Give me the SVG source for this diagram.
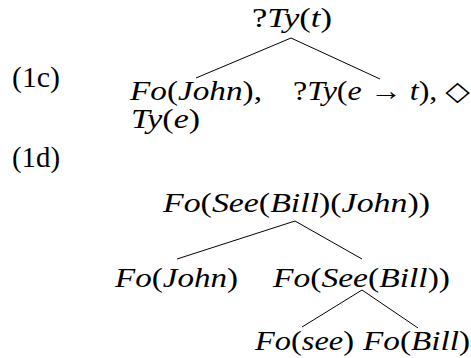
<svg xmlns="http://www.w3.org/2000/svg" width="471" height="358" viewBox="0 0 471 358">
<style>
text{font-family:"Liberation Serif","DejaVu Serif",serif;font-size:27px;fill:#000;white-space:pre}
.i{font-style:italic}
.lbl{font-size:29px}
.edge{stroke:#000;stroke-width:1;fill:none}
</style>
<rect width="471" height="358" fill="#fff"/>
<g id="labels">
<text class="lbl" x="12" y="87" textLength="48" lengthAdjust="spacingAndGlyphs">(1c)</text>
<text class="lbl" x="12" y="167" textLength="48" lengthAdjust="spacingAndGlyphs">(1d)</text>
</g>
<g id="connectors">
<line class="edge" x1="291" y1="38" x2="196" y2="78"/>
<line class="edge" x1="291" y1="38" x2="380" y2="79"/>
<line class="edge" x1="295" y1="221" x2="177" y2="259"/>
<line class="edge" x1="295" y1="221" x2="362" y2="259"/>
<line class="edge" x1="362" y1="290" x2="302" y2="327"/>
<line class="edge" x1="362" y1="290" x2="418" y2="328"/>
</g>
<g id="t1-root">
<text x="252" y="27" textLength="80" lengthAdjust="spacingAndGlyphs">?<tspan class="i">Ty</tspan>(<tspan class="i">t</tspan>)</text>
</g>
<g id="t1-left">
<text x="130" y="100" textLength="132" lengthAdjust="spacingAndGlyphs"><tspan class="i">Fo</tspan>(<tspan class="i">John</tspan>),</text>
<text x="131" y="128" textLength="69" lengthAdjust="spacingAndGlyphs"><tspan class="i">Ty</tspan>(<tspan class="i">e</tspan>)</text>
</g>
<g id="t1-right">
<text x="293" y="100" textLength="177" lengthAdjust="spacingAndGlyphs">?<tspan class="i">Ty</tspan>(<tspan class="i">e</tspan> → <tspan class="i">t</tspan>), ◇</text>
</g>
<g id="t2-root">
<text x="163" y="212" textLength="267" lengthAdjust="spacingAndGlyphs"><tspan class="i">Fo</tspan>(<tspan class="i">See</tspan>(<tspan class="i">Bill</tspan>)(<tspan class="i">John</tspan>))</text>
</g>
<g id="t2-john">
<text x="115" y="287" textLength="123" lengthAdjust="spacingAndGlyphs"><tspan class="i">Fo</tspan>(<tspan class="i">John</tspan>)</text>
</g>
<g id="t2-seebill">
<text x="273" y="287" textLength="177" lengthAdjust="spacingAndGlyphs"><tspan class="i">Fo</tspan>(<tspan class="i">See</tspan>(<tspan class="i">Bill</tspan>))</text>
</g>
<g id="t2-see">
<text x="255" y="350" textLength="99" lengthAdjust="spacingAndGlyphs"><tspan class="i">Fo</tspan>(<tspan class="i">see</tspan>)</text>
</g>
<g id="t2-bill">
<text x="363" y="350" textLength="107" lengthAdjust="spacingAndGlyphs"><tspan class="i">Fo</tspan>(<tspan class="i">Bill</tspan>)</text>
</g>
</svg>
